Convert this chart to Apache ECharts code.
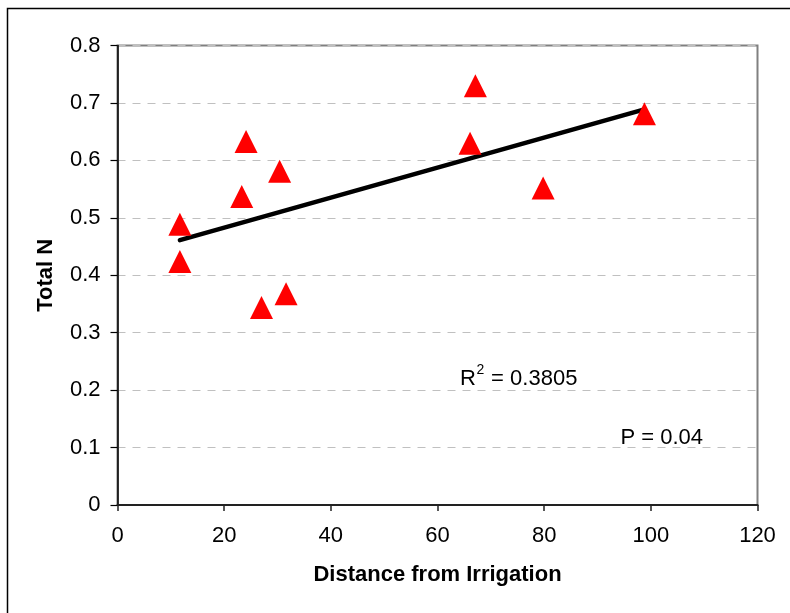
<!DOCTYPE html>
<html>
<head>
<meta charset="utf-8">
<script src="https://cdn.jsdelivr.net/npm/echarts@6/dist/echarts.min.js"></script>
<style>
html,body{margin:0;padding:0;background:#fff;}
#chart{width:790px;height:613px;}
</style>
</head>
<body>
<div id="chart"></div>
<script>
// Data
const distance = [11.7, 11.7, 23.3, 24.1, 27.0, 30.4, 31.6, 66.1, 67.1, 79.8, 98.8];
const totalN   = [0.424, 0.489, 0.537, 0.633, 0.344, 0.581, 0.368, 0.630, 0.730, 0.552, 0.681];
const xTicks = [0, 20, 40, 60, 80, 100, 120];
const yTicks = [0, 0.1, 0.2, 0.3, 0.4, 0.5, 0.6, 0.7, 0.8];
const r2Text = ' = 0.3805';
const pText = 'P = 0.04';

// Least-squares linear trendline (as in the original spreadsheet)
const n = distance.length;
const mx = distance.reduce((a, b) => a + b, 0) / n;
const my = totalN.reduce((a, b) => a + b, 0) / n;
let sxy = 0, sxx = 0;
for (let i = 0; i < n; i++) { sxy += (distance[i] - mx) * (totalN[i] - my); sxx += (distance[i] - mx) ** 2; }
const slope = sxy / sxx, intercept = my - slope * mx;
const xMin = Math.min(...distance), xMax = Math.max(...distance);
const trend = [[xMin, intercept + slope * xMin], [xMax, intercept + slope * xMax]];

const FONT = "'Liberation Sans', Arial, sans-serif";
const chart = echarts.init(document.getElementById('chart'), null, {renderer: 'canvas'});
chart.setOption({
  animation: false,
  backgroundColor: '#ffffff',
  grid: {
    left: 117.5, right: 32.5, top: 45.5, bottom: 108,
    show: true, borderColor: '#808080', borderWidth: 2, backgroundColor: 'transparent',
    containLabel: false
  },
  xAxis: {
    type: 'value', min: xTicks[0], max: xTicks[xTicks.length - 1], interval: xTicks[1] - xTicks[0],
    name: 'Distance from Irrigation', nameLocation: 'middle', nameGap: 59,
    nameTextStyle: {fontFamily: FONT, fontSize: 22, fontWeight: 'bold', color: '#000'},
    axisLine: {show: true, onZero: false, lineStyle: {color: '#222', width: 2}},
    axisTick: {show: true, inside: false, length: 6, lineStyle: {color: '#222', width: 1.5}},
    axisLabel: {fontFamily: FONT, fontSize: 22, color: '#000', margin: 19.5},
    splitLine: {show: false}
  },
  yAxis: {
    type: 'value', min: yTicks[0], max: yTicks[yTicks.length - 1], interval: 0.1,
    name: 'Total N', nameLocation: 'middle', nameGap: 61,
    nameTextStyle: {fontFamily: FONT, fontSize: 22, fontWeight: 'bold', color: '#000'},
    axisLine: {show: true, onZero: false, lineStyle: {color: '#000', width: 1.5}},
    axisTick: {show: true, inside: false, length: 7, lineStyle: {color: '#000', width: 1.2}},
    axisLabel: {fontFamily: FONT, fontSize: 22, color: '#000', margin: 17,
      formatter: v => (Math.round(v * 10) / 10).toString()},
    splitLine: {show: true, lineStyle: {color: '#c0c0c0', width: 1, type: [8, 7]}}
  },
  series: [
    {
      type: 'line', data: trend, symbol: 'none', silent: true, z: 2,
      lineStyle: {color: '#000', width: 4.5, cap: 'round'}
    },
    {
      type: 'scatter', data: distance.map((x, i) => [x, totalN[i]]), z: 3,
      symbol: 'triangle', symbolSize: 23,
      itemStyle: {color: '#ff0000', opacity: 1}
    }
  ],
  graphic: [
    {type: 'rect', left: 5, top: 6, shape: {width: 900, height: 800}, silent: true,
     style: {fill: 'none', stroke: '#000', lineWidth: 1.5}},
    {type: 'text', x: 460, y: 379, silent: true,
     style: {text: 'R', font: "22px 'Liberation Sans', Arial", fill: '#000', verticalAlign: 'middle'}},
    {type: 'text', x: 476.5, y: 370, silent: true,
     style: {text: '2', font: "14px 'Liberation Sans', Arial", fill: '#000', verticalAlign: 'middle'}},
    {type: 'text', x: 485, y: 379, silent: true,
     style: {text: r2Text, font: "22px 'Liberation Sans', Arial", fill: '#000', verticalAlign: 'middle'}},
    {type: 'text', x: 620.5, y: 437.5, silent: true,
     style: {text: pText, font: "22px 'Liberation Sans', Arial", fill: '#000', verticalAlign: 'middle'}}
  ]
});
</script>
</body>
</html>
